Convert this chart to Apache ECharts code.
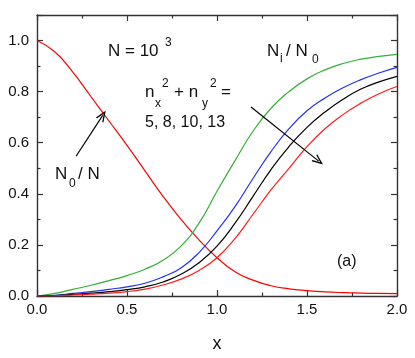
<!DOCTYPE html>
<html>
<head>
<meta charset="utf-8">
<script src="https://cdn.jsdelivr.net/npm/echarts@6/dist/echarts.min.js"></script>
<style>
  html, body { margin: 0; padding: 0; background: #fff; }
  #chart { width: 415px; height: 358px; }
</style>
</head>
<body>
<div id="chart"></div>
<script>
// x grid shared by every curve
var xs = [0, 0.1, 0.2, 0.3, 0.4, 0.5, 0.6, 0.7, 0.8, 0.9, 1.0,
          1.1, 1.2, 1.3, 1.4, 1.5, 1.6, 1.7, 1.8, 1.9, 2.0];

// N0 / N (red, falling)
var n0 = [1.0, 0.955, 0.875, 0.78, 0.685, 0.59, 0.49, 0.39, 0.30, 0.22, 0.15,
          0.095, 0.062, 0.04, 0.028, 0.021, 0.016, 0.013, 0.011, 0.01, 0.009];
// Ni / N0 for nx^2 + ny^2 = 5, 8, 10, 13
var ni5  = [0, 0.01, 0.026, 0.042, 0.06, 0.08, 0.105, 0.14, 0.195, 0.285, 0.41,
            0.53, 0.645, 0.735, 0.80, 0.85, 0.885, 0.91, 0.927, 0.938, 0.946];
var ni8  = [0, 0.003, 0.01, 0.017, 0.026, 0.036, 0.05, 0.075, 0.11, 0.17, 0.255,
            0.35, 0.46, 0.565, 0.655, 0.725, 0.775, 0.815, 0.847, 0.873, 0.895];
var ni10 = [0, 0.002, 0.006, 0.011, 0.017, 0.025, 0.036, 0.055, 0.085, 0.13, 0.195,
            0.285, 0.39, 0.495, 0.585, 0.66, 0.72, 0.77, 0.81, 0.838, 0.86];
var ni13 = [0, 0.001, 0.004, 0.007, 0.011, 0.017, 0.027, 0.043, 0.066, 0.10, 0.15,
            0.225, 0.32, 0.415, 0.50, 0.585, 0.655, 0.71, 0.755, 0.792, 0.82];

var xTicks = { min: 0, max: 2, interval: 0.5 };
var yTicks = { min: 0, max: 1.1, interval: 0.2 };

function toPairs(ys) {
    return xs.map(function (x, i) { return [x, ys[i]]; });
}

var axisColor = '#333';
var font = '"Liberation Sans", Arial, sans-serif';
var chevron = 'path://M0,10 L5,0 L10,10 L8.4,10 L5,3.2 L1.6,10 Z';

function frameAxis(pos, ticks, showLabel) {
    return {
        type: 'value',
        position: pos,
        min: ticks.min,
        max: ticks.max,
        interval: ticks.interval,
        axisLine: { show: true, onZero: false, lineStyle: { color: axisColor, width: 1.4 } },
        axisTick: { show: true, inside: true, length: 6, lineStyle: { color: axisColor, width: 1.2 } },
        minorTick: { show: true, splitNumber: 2, length: 3.5, lineStyle: { color: axisColor, width: 1.2 } },
        splitLine: { show: false },
        axisLabel: {
            show: showLabel,
            showMaxLabel: pos === 'left' ? false : true,
            fontFamily: font,
            fontSize: 15,
            color: '#111',
            margin: pos === 'left' ? 8 : 6,
            formatter: function (v) { return v.toFixed(1); }
        }
    };
}

function line(name, ys, color) {
    return {
        name: name,
        type: 'line',
        data: toPairs(ys),
        smooth: true,
        showSymbol: false,
        silent: true,
        lineStyle: { color: color, width: 1.2 },
        xAxisIndex: 0,
        yAxisIndex: 0
    };
}

function label(text, x, y, size) {
    return {
        type: 'text',
        x: x,
        y: y,
        silent: true,
        style: {
            text: text,
            fontFamily: font,
            fontSize: size,
            fill: '#111',
            verticalAlign: 'middle'
        }
    };
}

var chart = echarts.init(document.getElementById('chart'));

var bottomX = frameAxis('bottom', xTicks, true);
bottomX.name = 'x';
bottomX.nameLocation = 'middle';
bottomX.nameGap = 39;
bottomX.nameTextStyle = { fontFamily: font, fontSize: 18, color: '#111' };

var n0Series = line('N0/N', n0, '#ff0000');
n0Series.markLine = {
    silent: true,
    symbol: ['none', chevron],
    symbolSize: [9, 11],
    label: { show: false },
    emphasis: { disabled: true },
    lineStyle: { color: '#000', width: 1.2, type: 'solid' },
    data: [
        [{ coord: [0.217, 0.547] }, { coord: [0.365, 0.707] }],
        [{ coord: [1.189, 0.74] }, { coord: [1.565, 0.528] }]
    ]
};

chart.setOption({
    animation: false,
    backgroundColor: '#fff',
    grid: { left: 37, right: 18, top: 15, bottom: 59, containLabel: false },
    xAxis: [bottomX, frameAxis('top', xTicks, false)],
    yAxis: [frameAxis('left', yTicks, true), frameAxis('right', yTicks, false)],
    series: [
        n0Series,
        line('5', ni5, '#33b033'),
        line('8', ni8, '#2233f0'),
        line('10', ni10, '#000000'),
        line('13', ni13, '#ff1a1a')
    ],
    graphic: [
        label('N = 10', 108, 51, 17),
        label('3', 165, 43, 12),
        label('N', 267, 51, 17),
        label('i', 280, 59, 12),
        label('/ N', 286, 51, 17),
        label('0', 312, 60, 12),
        label('n', 145, 92, 17),
        label('x', 155, 104, 12),
        label('2', 162, 84, 12),
        label('+ n', 174, 92, 17),
        label('y', 202, 104, 12),
        label('2', 210, 84, 12),
        label('=', 221, 92, 17),
        label('5, 8, 10, 13', 145, 123, 16),
        label('N', 55, 174, 17),
        label('0', 69, 184, 12),
        label('/ N', 78, 174, 17),
        label('(a)', 337, 262, 16)
    ]
});
</script>
</body>
</html>
